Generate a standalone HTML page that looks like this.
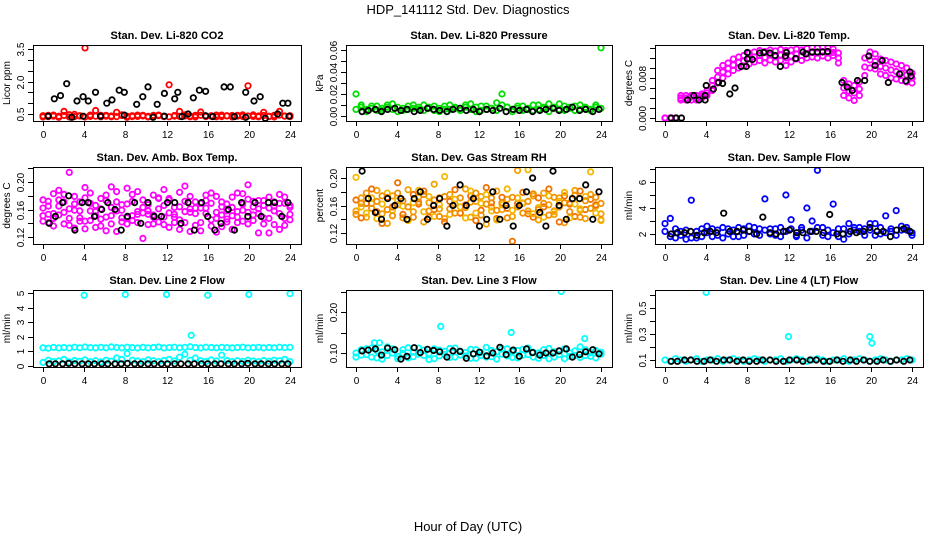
<!DOCTYPE html>
<html><head><meta charset="utf-8">
<style>
html,body{margin:0;padding:0;background:#fff;}
svg{display:block;font-family:"Liberation Sans",Arial,sans-serif;}
.t{font-size:11px;font-weight:bold;text-anchor:middle;}
.tk{font-size:10px;text-anchor:middle;}
.yt{font-size:10px;text-anchor:middle;}
</style></head>
<body>
<svg id="chart" width="936" height="540" viewBox="0 0 936 540">
<text x="468" y="14" style="font-size:13px;text-anchor:middle">HDP_141112  Std. Dev. Diagnostics</text>
<text x="468" y="531" style="font-size:13px;text-anchor:middle">Hour of Day (UTC)</text>
</svg>
<script>
// ---- data ----
const xTicks = [0,4,8,12,16,20,24];
const blackHours = [0.6,1.2,1.9,2.5,3.1,3.8,4.4,5.0,5.7,6.3,7.0,7.6,8.2,8.9,9.5,10.2,10.8,11.5,12.1,12.8,13.4,14.1,14.7,15.4,16.0,16.7,17.3,18.0,18.6,19.3,19.9,20.6,21.2,21.9,22.5,23.2,23.8];

const co2Red = [0.42,0.38,0.45,0.40,0.62,0.36,0.48,0.41,3.55,0.39,0.66,0.44,0.40,0.37,0.58,0.43,0.40,0.38,0.45,0.41,0.39,0.44,0.42,0.38,1.85,0.40,0.62,0.41,0.37,0.44,0.59,0.40,0.42,0.45,0.38,0.41,0.43,0.40,0.46,1.80,0.39,0.41,0.58,0.38,0.44,0.62,0.40,0.42];
const co2RedB = [0.36,0.44,0.40,0.35,0.43,0.47,0.38,0.42,0.36,0.45,0.40,0.37,0.44,0.41,0.38,0.46,0.35,0.42,0.39,0.44,0.36,0.41,0.45,0.40,0.37,0.43,0.39,0.46,0.41,0.36,0.44,0.38,0.40,0.37,0.45,0.42,0.36,0.44,0.39,0.41,0.46,0.37,0.43,0.40,0.36,0.45,0.41,0.38];
const co2BlackH = [0.5,1.1,1.7,2.3,2.8,3.3,3.9,3.9,4.4,5.1,5.6,6.2,6.7,7.4,7.9,7.9,9.1,9.7,10.2,10.7,11.1,11.8,11.8,12.8,13.1,13.5,14.1,14.6,15.2,15.8,15.8,16.5,17.6,18.2,18.6,19.7,19.7,20.5,21.1,21.6,22.8,23.3,23.8,23.9];
const co2BlackV = [0.4,1.2,1.35,1.9,0.35,1.1,1.3,0.4,1.1,1.5,0.4,1.0,1.15,1.6,1.5,0.45,0.95,1.3,1.75,0.35,0.95,1.45,0.4,1.2,1.5,0.38,0.5,1.25,1.6,1.55,0.42,0.38,1.75,1.75,0.38,1.5,0.35,1.1,1.3,0.3,0.5,1.0,1.0,0.4];

const presGreenA = [0.020,0.008,0.006,0.009,0.005,0.007,0.010,0.006,0.008,0.005,0.009,0.007,0.006,0.010,0.008,0.005,0.007,0.009,0.006,0.008,0.007,0.010,0.006,0.008,0.005,0.009,0.007,0.012,0.020,0.008,0.006,0.009,0.005,0.007,0.010,0.006,0.008,0.011,0.007,0.006,0.009,0.008,0.005,0.010,0.007,0.006,0.008,0.062];
const presGreenB = [0.006,0.010,0.004,0.007,0.009,0.005,0.008,0.011,0.004,0.007,0.006,0.010,0.008,0.005,0.007,0.009,0.004,0.006,0.010,0.007,0.005,0.008,0.011,0.004,0.009,0.006,0.007,0.005,0.010,0.008,0.004,0.007,0.009,0.006,0.005,0.010,0.007,0.004,0.008,0.011,0.005,0.007,0.009,0.006,0.008,0.005,0.010,0.007];
const presBlack = [0.004,0.005,0.006,0.004,0.006,0.007,0.005,0.006,0.004,0.005,0.007,0.006,0.005,0.004,0.006,0.007,0.005,0.006,0.004,0.006,0.005,0.007,0.004,0.006,0.005,0.006,0.004,0.005,0.006,0.007,0.005,0.006,0.008,0.005,0.006,0.004,0.006];

const tempMagUp = [0,0,0,0.0045,0.0045,0.0045,0.0045,0.0048,0.0055,0.0075,0.0095,0.0105,0.0110,0.0118,0.0122,0.0125,0.0130,0.0132,0.0135,0.0133,0.0136,0.0134,0.0137,0.0135,0.0136,0.0138,0.0136,0.0139,0.0141,0.0140,0.0142,0.0140,0.0138,0.0130,0.0075,0.0068,0.0065,0.0072,0.0120,0.0132,0.0128,0.0118,0.0115,0.0112,0.0108,0.0105,0.0100,0.0090];
const tempMagLo = [0,0,0,0.0036,0.0036,0.0036,0.0036,0.0040,0.0045,0.0055,0.0070,0.0080,0.0088,0.0095,0.0100,0.0104,0.0108,0.0112,0.0115,0.0110,0.0116,0.0112,0.0115,0.0105,0.0112,0.0118,0.0115,0.0120,0.0122,0.0120,0.0124,0.0120,0.0125,0.0110,0.0045,0.0040,0.0035,0.0045,0.0085,0.0100,0.0098,0.0088,0.0085,0.0080,0.0078,0.0075,0.0072,0.0070];
const tempMagMid = [0,0,0,0.0040,0.0040,0.0042,0.0040,0.0044,0.0050,0.0065,0.0082,0.0092,0.0099,0.0106,0.0111,0.0114,0.0119,0.0122,0.0125,0.0121,0.0126,0.0123,0.0126,0.0120,0.0124,0.0128,0.0125,0.0129,0.0131,0.0130,0.0133,0.0130,0.0131,0.0120,0.0060,0.0054,0.0050,0.0058,0.0102,0.0116,0.0113,0.0103,0.0100,0.0096,0.0093,0.0090,0.0086,0.0080];
const tempBlackH = [0.6,1.1,1.6,2.2,2.8,3.3,3.9,3.9,4.0,4.7,5.2,5.6,6.3,6.8,7.4,7.9,8.0,8.0,8.5,9.2,9.6,10.2,10.7,11.2,11.7,11.8,12.7,13.4,13.7,14.3,14.8,15.3,15.8,17.2,17.7,18.2,18.7,19.4,19.8,20.4,21.1,21.7,22.8,23.4,23.8,23.9];
const tempBlackV = [0,0,0,0.0036,0.0045,0.0036,0.0036,0.0045,0.0065,0.0058,0.0071,0.0069,0.0048,0.0060,0.0103,0.0103,0.0131,0.0118,0.0117,0.0130,0.0131,0.0130,0.0125,0.0103,0.0124,0.0131,0.0119,0.0132,0.0128,0.0132,0.0132,0.0132,0.0133,0.0071,0.0062,0.0055,0.0075,0.0075,0.0124,0.0105,0.0115,0.0071,0.0088,0.0074,0.0092,0.0084];

const boxMagA = [0.162,0.141,0.183,0.152,0.171,0.214,0.133,0.158,0.192,0.144,0.151,0.176,0.129,0.163,0.186,0.148,0.139,0.172,0.157,0.118,0.153,0.181,0.142,0.166,0.174,0.149,0.131,0.194,0.161,0.137,0.169,0.154,0.184,0.127,0.164,0.146,0.178,0.141,0.159,0.196,0.152,0.126,0.173,0.162,0.138,0.182,0.147,0.163];
const boxMagB = [0.143,0.172,0.154,0.188,0.139,0.161,0.179,0.148,0.132,0.169,0.157,0.136,0.181,0.151,0.128,0.167,0.191,0.144,0.153,0.174,0.158,0.139,0.177,0.149,0.134,0.163,0.185,0.141,0.156,0.171,0.129,0.162,0.145,0.179,0.152,0.168,0.131,0.157,0.183,0.139,0.164,0.173,0.148,0.126,0.171,0.154,0.137,0.166];
const boxMagC = [0.174,0.153,0.136,0.165,0.182,0.147,0.159,0.171,0.143,0.184,0.134,0.161,0.149,0.193,0.158,0.142,0.168,0.151,0.186,0.163,0.138,0.152,0.176,0.189,0.155,0.141,0.164,0.172,0.128,0.154,0.162,0.181,0.169,0.147,0.135,0.158,0.151,0.184,0.143,0.156,0.172,0.161,0.139,0.178,0.165,0.131,0.169,0.153];
const boxMagD = [0.151,0.165,0.147,0.174,0.156,0.137,0.168,0.143,0.177,0.158,0.166,0.146,0.173,0.139,0.171,0.159,0.148,0.182,0.141,0.155,0.167,0.149,0.161,0.138,0.176,0.153,0.145,0.157,0.179,0.162,0.141,0.173,0.136,0.156,0.171,0.142,0.163,0.149,0.168,0.175,0.144,0.154,0.166,0.147,0.158,0.169,0.178,0.145];
const boxBlack = [0.14,0.15,0.17,0.18,0.13,0.17,0.17,0.15,0.16,0.17,0.16,0.13,0.15,0.17,0.14,0.17,0.15,0.15,0.17,0.17,0.14,0.17,0.13,0.17,0.15,0.13,0.14,0.16,0.13,0.17,0.15,0.17,0.15,0.17,0.17,0.15,0.17];

const rhOrA = [0.152,0.171,0.143,0.163,0.182,0.148,0.134,0.174,0.161,0.142,0.183,0.151,0.172,0.136,0.164,0.191,0.155,0.141,0.176,0.162,0.149,0.184,0.143,0.166,0.173,0.133,0.158,0.181,0.154,0.169,0.144,0.211,0.163,0.152,0.174,0.139,0.178,0.161,0.147,0.171,0.135,0.164,0.182,0.153,0.141,0.176,0.159,0.148];
const rhOrB = [0.168,0.142,0.163,0.184,0.151,0.134,0.172,0.158,0.193,0.147,0.139,0.176,0.162,0.181,0.143,0.154,0.171,0.136,0.166,0.183,0.149,0.161,0.174,0.138,0.153,0.186,0.164,0.141,0.172,0.156,0.108,0.163,0.179,0.148,0.143,0.171,0.158,0.184,0.152,0.136,0.174,0.162,0.144,0.181,0.154,0.169,0.161,0.139];
const rhOrC = [0.201,0.158,0.149,0.171,0.141,0.162,0.178,0.153,0.167,0.159,0.138,0.164,0.182,0.151,0.173,0.144,0.161,0.202,0.147,0.169,0.158,0.142,0.181,0.149,0.163,0.176,0.152,0.139,0.161,0.184,0.153,0.171,0.164,0.212,0.148,0.157,0.143,0.174,0.151,0.166,0.179,0.142,0.162,0.155,0.173,0.209,0.149,0.138];
const rhOrD = [0.147,0.163,0.178,0.156,0.166,0.174,0.154,0.145,0.178,0.167,0.158,0.143,0.165,0.176,0.152,0.168,0.144,0.173,0.155,0.149,0.171,0.157,0.165,0.178,0.146,0.162,0.171,0.153,0.164,0.142,0.172,0.158,0.149,0.166,0.177,0.154,0.163,0.146,0.172,0.158,0.164,0.151,0.175,0.143,0.167,0.156,0.172,0.163];
const rhBlack = [0.21,0.17,0.15,0.14,0.17,0.16,0.17,0.14,0.17,0.18,0.14,0.16,0.17,0.13,0.16,0.19,0.16,0.17,0.13,0.14,0.18,0.14,0.16,0.13,0.16,0.18,0.20,0.15,0.13,0.21,0.16,0.14,0.17,0.17,0.19,0.14,0.18];

const flowBlueA = [2.8,3.2,1.7,2.2,1.6,4.6,1.7,2.4,2.6,1.8,2.3,1.7,2.4,1.8,2.5,1.9,2.6,2.0,2.4,4.7,2.4,1.9,2.5,5.0,3.1,1.8,2.5,4.0,3.0,6.9,2.5,1.8,4.3,2.4,1.6,2.8,2.3,2.5,1.9,2.8,2.8,2.0,3.4,2.2,3.8,2.6,2.3,1.9];
const flowBlueB = [2.2,1.8,2.4,1.9,2.3,1.7,2.2,1.8,2.1,2.4,1.9,2.5,2.0,2.3,1.8,2.4,2.2,2.5,1.9,2.3,2.0,2.4,1.8,2.2,2.4,1.9,2.3,1.7,2.2,2.5,1.9,2.3,2.1,1.8,2.4,2.0,2.5,2.2,2.4,2.3,1.9,2.5,2.1,2.4,1.9,2.3,2.5,2.1];
const flowBlack = [2.0,2.1,2.1,2.2,1.9,2.1,2.2,2.1,3.6,2.2,2.2,2.3,2.2,2.0,3.3,2.1,2.0,2.2,2.3,2.1,2.1,2.2,2.2,2.1,3.5,2.0,2.0,2.2,2.1,2.2,2.5,2.2,2.2,1.8,2.3,2.4,2.2];

const l2CyanHi = [1.25,1.22,1.28,1.24,1.27,1.23,1.29,1.25,1.30,1.26,1.24,1.28,1.25,1.31,1.27,1.24,1.29,1.26,1.23,1.28,1.25,1.27,1.30,1.24,1.26,1.29,1.25,1.28,1.32,1.26,1.24,1.29,1.27,1.25,1.28,1.26,1.24,1.27,1.29,1.25,1.26,1.28,1.24,1.27,1.25,1.29,1.26,1.28];
const l2CyanLo = [0.25,0.40,0.30,0.35,0.45,0.28,0.38,0.32,0.42,0.30,0.36,0.28,0.40,0.33,0.55,0.45,0.85,0.40,0.34,0.30,0.42,0.36,0.30,0.38,0.45,0.35,0.60,0.80,0.40,0.55,0.36,0.30,0.42,0.35,0.75,0.38,0.30,0.36,0.32,0.40,0.34,0.30,0.38,0.33,0.40,0.36,0.45,0.30];
const l2OutH = [4.0,8.0,12.0,14.4,16.0,20.0,24.0];
const l2OutV = [4.85,4.9,4.9,2.1,4.85,4.9,4.95];
const l2Black = [0.15,0.15,0.15,0.18,0.15,0.15,0.15,0.15,0.15,0.15,0.15,0.15,0.18,0.15,0.15,0.15,0.15,0.15,0.15,0.15,0.15,0.15,0.15,0.15,0.15,0.15,0.15,0.15,0.15,0.15,0.18,0.15,0.15,0.15,0.15,0.15,0.15];

const l3CyanA = [0.100,0.095,0.110,0.090,0.105,0.085,0.115,0.100,0.092,0.108,0.088,0.102,0.112,0.094,0.099,0.086,0.107,0.096,0.111,0.090,0.104,0.093,0.109,0.087,0.101,0.114,0.091,0.103,0.097,0.110,0.089,0.106,0.095,0.112,0.090,0.100,0.108,0.086,0.103,0.096,0.110,0.092,0.105,0.115,0.094,0.101,0.088,0.102];
const l3CyanB = [0.090,0.108,0.096,0.112,0.088,0.103,0.094,0.110,0.086,0.099,0.113,0.091,0.097,0.107,0.084,0.110,0.093,0.104,0.089,0.112,0.095,0.101,0.087,0.108,0.094,0.090,0.106,0.085,0.111,0.093,0.104,0.088,0.109,0.096,0.102,0.087,0.094,0.111,0.090,0.105,0.086,0.100,0.094,0.089,0.108,0.092,0.106,0.097];
const l3OutH = [1.8,2.3,8.3,15.2,20.1,22.4];
const l3OutV = [0.125,0.125,0.165,0.15,0.25,0.135];
const l3Black = [0.105,0.107,0.110,0.095,0.112,0.108,0.085,0.092,0.113,0.101,0.109,0.106,0.103,0.090,0.105,0.104,0.087,0.098,0.102,0.093,0.100,0.114,0.096,0.107,0.092,0.110,0.101,0.095,0.100,0.100,0.105,0.110,0.090,0.096,0.103,0.108,0.098];

const l4CyanA = [0.10,0.09,0.11,0.10,0.09,0.10,0.11,0.09,0.10,0.10,0.11,0.09,0.10,0.11,0.10,0.09,0.10,0.11,0.10,0.09,0.10,0.10,0.11,0.09,0.10,0.11,0.10,0.09,0.10,0.11,0.10,0.09,0.10,0.10,0.11,0.09,0.10,0.11,0.10,0.09,0.10,0.11,0.10,0.09,0.10,0.10,0.11,0.10];
const l4OutH = [4.0,12.0,19.9,20.1];
const l4OutV = [0.62,0.28,0.28,0.23];
const l4Black = [0.09,0.09,0.10,0.10,0.09,0.09,0.10,0.09,0.10,0.10,0.09,0.10,0.09,0.09,0.10,0.10,0.09,0.09,0.10,0.10,0.09,0.10,0.10,0.09,0.09,0.10,0.09,0.10,0.09,0.10,0.09,0.09,0.10,0.09,0.10,0.09,0.10];

// ---- layout ----
const cols = [[33,301],[346,612],[655,923]];
const rows = [[45,121],[167,244],[290,367]];
const svg = document.getElementById('chart');
const NS = 'http://www.w3.org/2000/svg';
function mk(tag, attrs){ const e=document.createElementNS(NS,tag); for(const k in attrs) e.setAttribute(k,attrs[k]); return e; }
function grid(n){ const h=[]; for(let i=0;i<n;i++) h.push(i*24/(n-1)); return h; }

const panels = [
 {name:'co2',title:'Stan. Dev. Li-820 CO2',ylab:'Licor ppm',c:0,r:0,ya:[0.5,114],yb:[3.5,49],ticks:[0.5,1,1.5,2,2.5,3,3.5],labels:['0.5','','','2.0','','','3.5'],
  series:[{v:co2RedB,col:'#ff0000'},{v:co2Red,col:'#ff0000'},{h:co2BlackH,v:co2BlackV,col:'#000'}]},
 {name:'pressure',title:'Stan. Dev. Li-820 Pressure',ylab:'kPa',c:1,r:0,ya:[0,116],yb:[0.06,50],ticks:[0,0.01,0.02,0.03,0.04,0.05,0.06],labels:['0.00','','0.02','','0.04','','0.06'],
  series:[{v:presGreenA,col:'#00dd00'},{v:presGreenB,col:'#00dd00'},{h:blackHours,v:presBlack,col:'#000'}]},
 {name:'temp',title:'Stan. Dev. Li-820 Temp.',ylab:'degrees C',c:2,r:0,ya:[0,118],yb:[0.008,78],ticks:[0,0.002,0.004,0.006,0.008,0.010,0.012,0.014],labels:['0.000','','','','0.008','','',''],
  series:[{v:tempMagUp,col:'#ff00ff'},{v:tempMagLo,col:'#ff00ff'},{v:tempMagMid,col:'#ff00ff'},{h:tempBlackH,v:tempBlackV,col:'#000'}]},
 {name:'box-temp',title:'Stan. Dev. Amb. Box Temp.',ylab:'degrees C',c:0,r:1,ya:[0.12,237],yb:[0.20,182],ticks:[0.12,0.14,0.16,0.18,0.20,0.22],labels:['0.12','','0.16','','0.20',''],
  series:[{v:boxMagA,col:'#ff00ff'},{v:boxMagB,col:'#ff00ff'},{v:boxMagC,col:'#ff00ff'},{v:boxMagD,col:'#ff00ff'},{h:blackHours,v:boxBlack,col:'#000'}]},
 {name:'rh',title:'Stan. Dev. Gas Stream RH',ylab:'percent',c:1,r:1,ya:[0.12,233],yb:[0.20,178],ticks:[0.12,0.14,0.16,0.18,0.20],labels:['0.12','','0.16','','0.20'],
  series:[{v:rhOrA,col:'#f5a000'},{v:rhOrB,col:'#f07000'},{v:rhOrC,col:'#f5b800'},{v:rhOrD,col:'#f09000'},{h:blackHours,v:rhBlack,col:'#000'}]},
 {name:'sample-flow',title:'Stan. Dev. Sample Flow',ylab:'ml/min',c:2,r:1,ya:[2,234],yb:[6,182],ticks:[2,3,4,5,6,7],labels:['2','','4','','6',''],
  series:[{v:flowBlueA,col:'#0000ff'},{v:flowBlueB,col:'#0000ff'},{h:blackHours,v:flowBlack,col:'#000'}]},
 {name:'line2',title:'Stan. Dev. Line 2 Flow',ylab:'ml/min',c:0,r:2,ya:[0,366],yb:[5,293],ticks:[0,1,2,3,4,5],labels:['0','1','2','3','4','5'],
  series:[{v:l2CyanHi,col:'#00ffff'},{v:l2CyanLo,col:'#00ffff'},{h:l2OutH,v:l2OutV,col:'#00ffff'},{h:blackHours,v:l2Black,col:'#000'}]},
 {name:'line3',title:'Stan. Dev. Line 3 Flow',ylab:'ml/min',c:1,r:2,ya:[0.10,353],yb:[0.20,312],ticks:[0.10,0.15,0.20,0.25],labels:['0.10','','0.20',''],
  series:[{v:l3CyanA,col:'#00ffff'},{v:l3CyanB,col:'#00ffff'},{h:l3OutH,v:l3OutV,col:'#00ffff'},{h:blackHours,v:l3Black,col:'#000'}]},
 {name:'line4',title:'Stan. Dev. Line 4 (LT) Flow',ylab:'ml/min',c:2,r:2,ya:[0.1,360],yb:[0.5,308],ticks:[0.1,0.2,0.3,0.4,0.5,0.6],labels:['0.1','','0.3','','0.5',''],
  series:[{v:l4CyanA,col:'#00ffff'},{h:l4OutH,v:l4OutV,col:'#00ffff'},{h:blackHours,v:l4Black,col:'#000'}]}
];

panels.forEach(p=>{
  const [L,R]=cols[p.c], [T,B]=rows[p.r];
  const xs = h => (L+10) + h/24*((R-11)-(L+10));
  const ys = v => p.ya[1] + (v-p.ya[0])*(p.yb[1]-p.ya[1])/(p.yb[0]-p.ya[0]);
  const g = mk('g',{});
  
  
  svg.appendChild(g);
  const cp = mk('clipPath',{id:'cp-'+p.name}); cp.appendChild(mk('rect',{x:L,y:T,width:R-L,height:B-T})); g.appendChild(cp);
  const title = mk('text',{x:(L+R)/2,y:T-6,class:'t'}); title.textContent=p.title;
  
  
  g.appendChild(title);
  const yl = mk('text',{x:L-23,y:(T+B)/2,class:'tk',transform:`rotate(-90 ${L-23} ${(T+B)/2})`}); yl.textContent=p.ylab;
  
  
  g.appendChild(yl);
  const marks = mk('g',{'clip-path':`url(#cp-${p.name})`,fill:'none','stroke-width':'1.8'});
  
  
  g.appendChild(marks);
  p.series.forEach(s=>{
    const hs = s.h || grid(s.v.length);
    s.v.forEach((v,i)=>{
      const c = mk('circle',{cx:xs(hs[i]).toFixed(1),cy:ys(v).toFixed(1),r:2.7,stroke:s.col});
      
      
      marks.appendChild(c);
    });
  });
  const box = mk('rect',{x:L+0.5,y:T+0.5,width:R-L,height:B-T,fill:'none',stroke:'#000'});
  
  
  g.appendChild(box);
  xTicks.forEach(t=>{
    const x = Math.round(xs(t))+0.5;
    g.appendChild(mk('line',{x1:x,x2:x,y1:B,y2:B+5,stroke:'#000'}));
    const tx = mk('text',{x:x,y:B+17,class:'tk'}); tx.textContent=t;
    
    
    g.appendChild(tx);
  });
  p.ticks.forEach((t,i)=>{
    const y = Math.round(ys(t))+0.5;
    g.appendChild(mk('line',{x1:L-5,x2:L,y1:y,y2:y,stroke:'#000'}));
    if(p.labels[i]){
      const tx = mk('text',{x:L-9,y:y,class:'yt',transform:`rotate(-90 ${L-9} ${y})`}); tx.textContent=p.labels[i];
      
      
      g.appendChild(tx);
    }
  });
});
</script>
</body></html>
